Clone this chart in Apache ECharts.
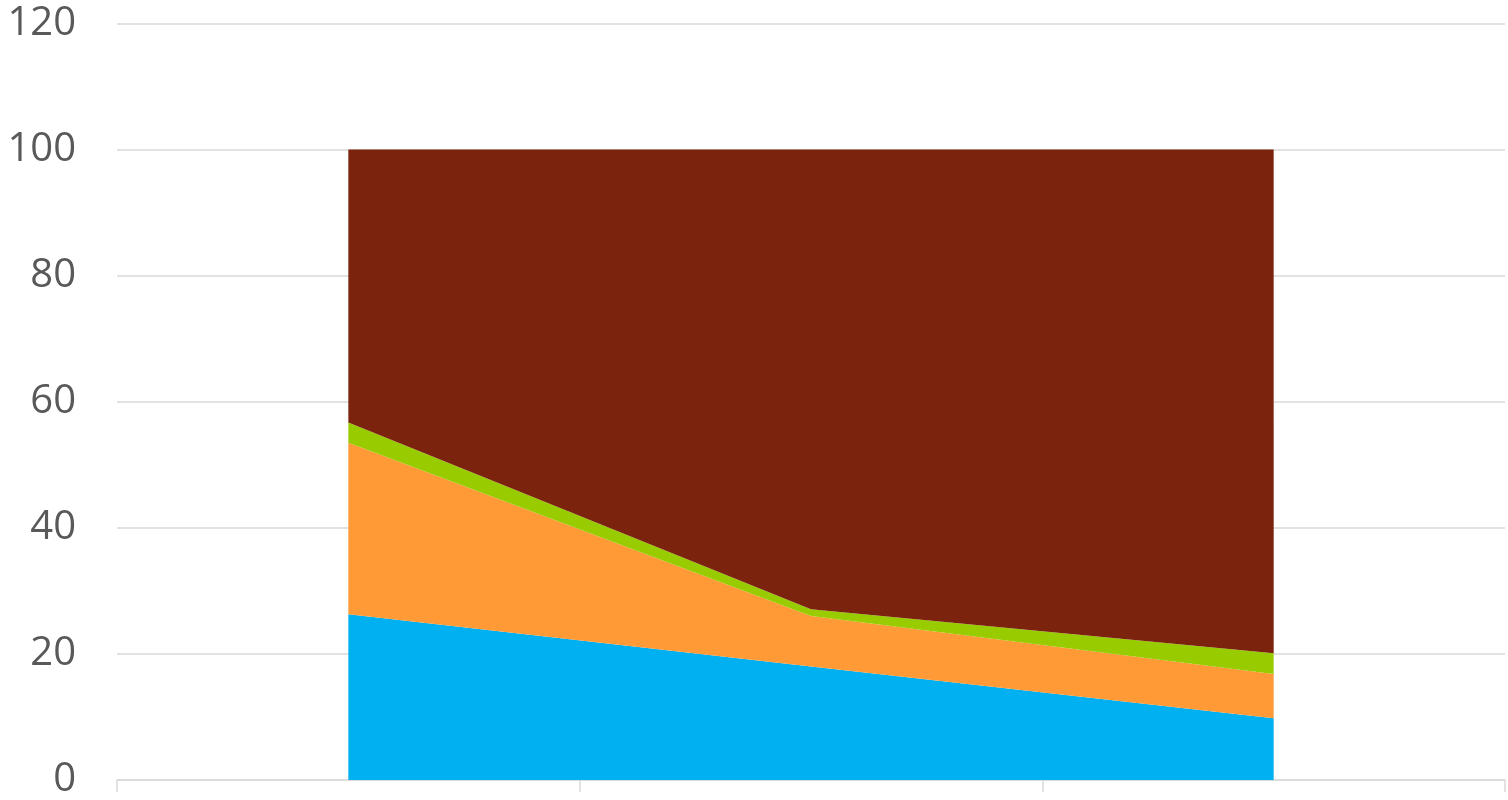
<!DOCTYPE html>
<html><head><meta charset="utf-8">
<script src="https://cdn.jsdelivr.net/npm/echarts@6/dist/echarts.min.js"></script>
<style>html,body{margin:0;padding:0;background:#fff;overflow:hidden}#c{width:1508px;height:800px}</style>
</head><body><div id="c"></div>
<script>
const categories = ['A', 'B', 'C'];
const blueValues = [26.3, 18.0, 9.8];
const orangeValues = [27.2, 8.0, 7.0];
const greenValues = [3.2, 1.1, 3.3];
const brownValues = [43.3, 72.9, 79.9];
const yTicks = [0, 20, 40, 60, 80, 100, 120];

const chart = echarts.init(document.getElementById('c'), null, { width: 1508, height: 800 });
function area(name, data, color) {
  return { name, type: 'line', stack: 'total', data, symbol: 'none',
    lineStyle: { width: 0 }, areaStyle: { color: color, opacity: 1 }, itemStyle: { color } };
}
chart.setOption({
  animation: false,
  grid: { left: 117, width: 1388, top: 23.5, height: 765, containLabel: false },
  xAxis: {
    type: 'category', data: categories, boundaryGap: true,
    axisLine: { lineStyle: { color: '#d9d9d9', width: 1.5 } },
    axisTick: { show: true, length: 12, lineStyle: { color: '#d9d9d9', width: 1.5 } },
    axisLabel: { show: false }
  },
  yAxis: {
    type: 'value', min: yTicks[0], max: yTicks[yTicks.length - 1], interval: 20,
    axisLine: { show: false }, axisTick: { show: false },
    splitLine: { lineStyle: { color: '#d9d9d9', width: 1.5 } },
    axisLabel: { color: '#595959', fontSize: 40, fontFamily: 'Open Sans', margin: 41 }
  },
  series: [
    area('S1', blueValues, '#00B0F0'),
    area('S2', orangeValues, '#FF9A36'),
    area('S3', greenValues, '#99CC00'),
    area('S4', brownValues, '#7B230C')
  ]
});
</script></body></html>
